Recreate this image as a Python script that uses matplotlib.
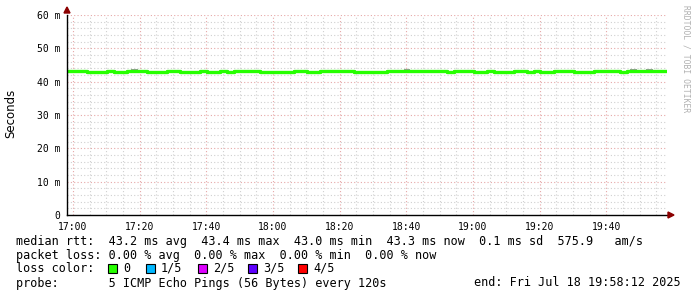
import numpy as np
import matplotlib.pyplot as plt
from matplotlib.patches import Rectangle, Polygon

# median rtt (ms), one value every 120 s starting at 16:58:12
median = [43.3, 43.3, 43.3, 43.0, 43.0, 43.0, 43.3, 43.0, 43.0, 43.3,
          43.3, 43.3, 43.0, 43.0, 43.0, 43.3, 43.3, 43.0, 43.0, 43.0,
          43.3, 43.0, 43.0, 43.3, 43.0, 43.3, 43.3, 43.3, 43.3, 43.0,
          43.0, 43.0, 43.0, 43.0, 43.3, 43.3, 43.0, 43.0, 43.3, 43.3,
          43.3, 43.3, 43.3, 43.0, 43.0, 43.0, 43.0, 43.0, 43.3, 43.3,
          43.3, 43.3, 43.3, 43.3, 43.3, 43.3, 43.3, 43.0, 43.3, 43.3,
          43.3, 43.0, 43.0, 43.3, 43.0, 43.0, 43.0, 43.3, 43.3, 43.0,
          43.3, 43.0, 43.0, 43.3, 43.3, 43.3, 43.0, 43.0, 43.0, 43.3,
          43.3, 43.3, 43.3, 43.0, 43.3, 43.3, 43.3, 43.3, 43.3, 43.3]
t0 = -1.8   # minutes after 17:00
step = 2.0

# smoke spikes (minutes after 17:00, top in ms)
smoke_t = [18.5, 100.2, 168.2, 173.0]
smoke_hi = [43.8, 43.9, 43.7, 43.7]

xticks = [0, 20, 40, 60, 80, 100, 120, 140, 160]
xlabels = ['17:00', '17:20', '17:40', '18:00', '18:20', '18:40', '19:00', '19:20', '19:40']
yticks = [0, 10, 20, 30, 40, 50, 60]
ylabels = ['0', '10 m', '20 m', '30 m', '40 m', '50 m', '60 m']

loss_labels = ['0', '1/5', '2/5', '3/5', '4/5']
loss_colors = ['#26ff00', '#00b8ff', '#dd00ff', '#5e00ff', '#ff0000']

W, H = 697, 297
fig = plt.figure(figsize=(W / 100, H / 100), dpi=100)
ax = fig.add_axes([67 / W, 1 - 215 / H, 600 / W, 200 / H])

times = t0 + step * np.arange(len(median) + 1)
med = np.array(median + [median[-1]])

for t, hi in zip(smoke_t, smoke_hi):
    ax.fill_between([t - 1, t + 1], 43.3, hi, color='#999999', lw=0)

ax.step(times, med, where='post', color=loss_colors[0], lw=2.4, solid_capstyle='butt')

ax.set_xlim(t0, t0 + 180)
ax.set_ylim(0, 60)

# grids
for v in np.arange(0, 181, 5):
    if v % 20:
        ax.axvline(v, color='#d0d0d0', lw=0.8, ls=(0, (1, 2)), zorder=0)
for v in np.arange(2, 61, 2):
    if v % 10:
        ax.axhline(v, color='#d0d0d0', lw=0.8, ls=(0, (1, 2)), zorder=0)
for v in xticks:
    ax.axvline(v, color='#e6a8a8', lw=0.8, ls=(0, (1, 2)), zorder=0)
for v in yticks[1:]:
    ax.axhline(v, color='#e6a8a8', lw=0.8, ls=(0, (1, 2)), zorder=0)

for s in ['top', 'right']:
    ax.spines[s].set_visible(False)
ax.spines['left'].set_color('black')
ax.spines['bottom'].set_color('black')
ax.spines['left'].set_linewidth(1)
ax.spines['bottom'].set_linewidth(1)

ax.set_xticks(xticks)
ax.set_xticklabels(xlabels, fontsize=7, family='DejaVu Sans Mono')
ax.set_yticks(yticks)
ax.set_yticklabels(ylabels, fontsize=7, family='DejaVu Sans Mono')
ax.tick_params(length=0, pad=5)

# arrows
fig.patches.append(Polygon([[64 / W, 1 - 13 / H], [70 / W, 1 - 13 / H], [67 / W, 1 - 7 / H]],
                           closed=True, color='#8b0000', transform=fig.transFigure))
fig.patches.append(Polygon([[668 / W, 1 - 212 / H], [668 / W, 1 - 218 / H], [674 / W, 1 - 215 / H]],
                           closed=True, color='#8b0000', transform=fig.transFigure))

fig.text(11 / W, 1 - 113 / H, 'Seconds', rotation=90, fontsize=8.5, ha='center', va='center')
fig.text(686 / W, 1 - 5 / H, 'RRDTOOL / TOBI OETIKER', rotation=270, fontsize=5.8,
         color='#b0b0b0', ha='center', va='top', family='DejaVu Sans Mono')

mono = dict(fontsize=8.5, family='DejaVu Sans Mono', va='center')


def put(x, y, s, **kw):
    fig.text(x / W, 1 - y / H, s, **mono, **kw)


put(16, 241, 'median rtt:  43.2 ms avg  43.4 ms max  43.0 ms min  43.3 ms now  0.1 ms sd  575.9   am/s')
put(16, 255, 'packet loss: 0.00 % avg  0.00 % max  0.00 % min  0.00 % now')
put(16, 268, 'loss color:')
for bx, lab, c in zip([108, 146, 198, 248, 298], loss_labels, loss_colors):
    fig.patches.append(Rectangle((bx / W, 1 - 273 / H), 9 / W, 9 / H, facecolor=c,
                                 edgecolor='black', lw=0.8, transform=fig.transFigure))
    put(bx + 15, 268, lab)
put(16, 283, 'probe:       5 ICMP Echo Pings (56 Bytes) every 120s')
put(474, 283, 'end: Fri Jul 18 19:58:12 2025')

fig.savefig('out.png', dpi=100)
